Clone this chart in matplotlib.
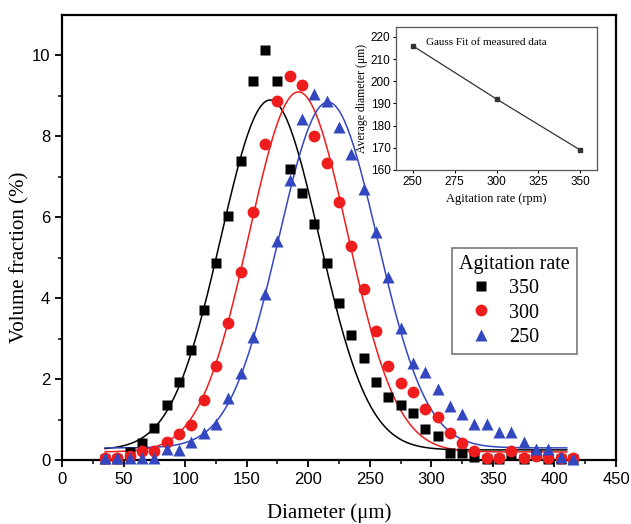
import numpy as np
import matplotlib as mpl
mpl.use('Agg')
import matplotlib.pyplot as plt

######### data ##############################
diameter = np.arange(35, 420, 10)   # bin centres (um)

vol_350 = [0.02, 0.02, 0.20, 0.42, 0.79, 1.36, 1.93, 2.73, 3.71, 4.87,
           6.04, 7.40, 9.36, 10.13, 9.36, 7.20, 6.60, 5.84, 4.87, 3.89,
           3.10, 2.52, 1.93, 1.56, 1.36, 1.16, 0.77, 0.59, 0.17, 0.17,
           0.07, 0.02, 0.02, 0.12, 0.02, 0.12, 0.02, 0.02, 0.02]
vol_300 = [0.05, 0.05, 0.10, 0.22, 0.22, 0.44, 0.64, 0.87, 1.49, 2.33,
           3.39, 4.65, 6.13, 7.80, 8.87, 9.50, 9.28, 8.02, 7.35, 6.38,
           5.30, 4.23, 3.19, 2.33, 1.91, 1.68, 1.26, 1.06, 0.68, 0.42,
           0.22, 0.05, 0.05, 0.22, 0.05, 0.10, 0.05, 0.05, 0.05]
vol_250 = [0.05, 0.05, 0.05, 0.05, 0.05, 0.27, 0.25, 0.44, 0.67, 0.89,
           1.53, 2.15, 3.04, 4.10, 5.42, 6.93, 8.44, 9.06, 8.88, 8.24,
           7.57, 6.70, 5.64, 4.53, 3.27, 2.40, 2.18, 1.76, 1.33, 1.14,
           0.89, 0.89, 0.69, 0.69, 0.45, 0.27, 0.27, 0.07, 0.02]

rates = ['350', '300', '250']
# Gauss fit parameters (centre, width, amplitude, offset)
fit_xc = [169, 192, 216]
fit_w = [40, 40, 40]
fit_amp = [8.65, 8.9, 8.55]
fit_y0 = [0.25, 0.2, 0.3]

# inset
inset_rate = [250, 300, 350]
inset_diam = [216, 192, 169]

colors = ['black', '#ee1c1c', '#3347c0']
markers = ['s', 'o', '^']
msizes = [7.5, 8.5, 8.5]

serif = 'Liberation Serif'
sans = 'Liberation Sans'

fig = plt.figure(figsize=(6.31, 5.24), dpi=100)
ax = fig.add_axes([0.0983, 0.1221, 0.878, 0.8492])

xfit = np.linspace(35, 410, 300)
handles = []
for vals, lab, c, m, ms, xc, w, a, y0 in zip([vol_350, vol_300, vol_250], rates, colors,
                                             markers, msizes, fit_xc, fit_w, fit_amp, fit_y0):
    h, = ax.plot(diameter, vals, ls='none', marker=m, ms=ms, color=c, mec='none',
                 clip_on=False, zorder=3, label=lab)
    handles.append(h)
    ax.plot(xfit, y0 + a*np.exp(-(xfit-xc)**2/(2*w**2)), color=c, lw=1.1, zorder=2)

ax.set_xlim(0, 450)
ax.set_ylim(0, 11)
ax.set_xticks(np.arange(0, 451, 50))
ax.set_xticks(np.arange(25, 450, 50), minor=True)
ax.set_yticks(np.arange(0, 11, 2))
ax.set_yticks(np.arange(1, 11, 2), minor=True)
ax.tick_params(which='major', length=5, width=1.3, labelsize=12, direction='out')
ax.tick_params(which='minor', length=3, width=1.1, direction='out')
for lbl in ax.get_xticklabels() + ax.get_yticklabels():
    lbl.set_family(sans)
for s in ax.spines.values():
    s.set_linewidth(1.6)
ax.set_xlabel('Diameter (\u03bcm)', fontsize=15, family=serif)
ax.set_ylabel('Volume fraction (%)', fontsize=15, family=serif)
ax.xaxis.set_label_coords(0.482, -0.097)
ax.yaxis.set_label_coords(-0.058, 0.456)

leg = ax.legend(handles=handles, title='Agitation rate', loc='upper left',
                bbox_to_anchor=(0.704, 0.476), borderaxespad=0, frameon=True,
                fancybox=False, prop={'family': serif, 'size': 14.5},
                handletextpad=0.3, borderpad=0.35, labelspacing=0.25,
                handlelength=2.2, alignment='left')
leg.get_title().set_family(serif)
leg.get_title().set_fontsize(14.5)
leg.get_frame().set_edgecolor('#555555')
leg.get_frame().set_linewidth(1.2)

# inset
axi = fig.add_axes([0.6276, 0.6756, 0.3185, 0.2729])
axi.plot(inset_rate, inset_diam, color='#333333', lw=0.9, marker='s', ms=2.5)
axi.set_xlim(240, 360)
axi.set_ylim(160, 224.5)
axi.set_xticks([250, 275, 300, 325, 350])
axi.set_yticks(np.arange(160, 221, 10))
axi.tick_params(length=2.5, width=0.8, labelsize=8.5, direction='out', pad=1.5)
for lbl in axi.get_xticklabels() + axi.get_yticklabels():
    lbl.set_family(sans)
for s in axi.spines.values():
    s.set_linewidth(0.9)
    s.set_color('#555555')
axi.set_xlabel('Agitation rate (rpm)', fontsize=9, family=serif, labelpad=4)
axi.set_ylabel('Average diameter (\u03bcm)', fontsize=8.5, family=serif, labelpad=2)
axi.text(0.45, 0.89, 'Gauss Fit of measured data', transform=axi.transAxes,
         fontsize=8, family=serif, ha='center', va='center')

fig.savefig('out.png', dpi=100)
